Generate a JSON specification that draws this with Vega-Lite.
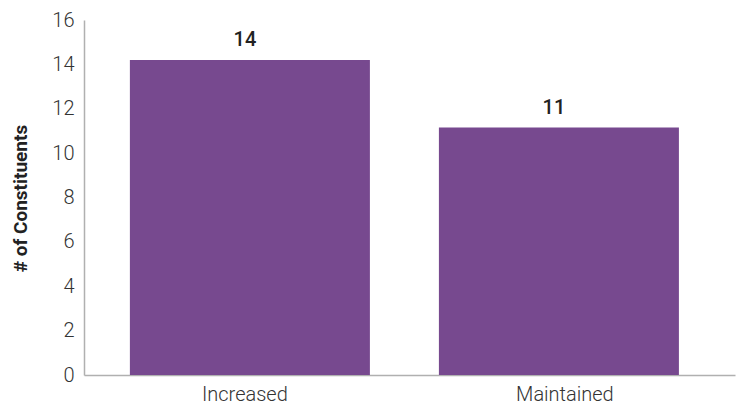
{
  "$schema": "https://vega.github.io/schema/vega-lite/v6.json",
  "width": 651,
  "height": 355,
  "autosize": {"type": "none"},
  "padding": {"left": 84, "top": 20, "right": 1, "bottom": 30},
  "config": {"view": {"stroke": null}, "font": "Roboto"},
  "data": {"values": [
    {"category": "Increased", "value": 14.2},
    {"category": "Maintained", "value": 11.15}
  ]},
  "encoding": {
    "x": {"field": "category", "type": "nominal", "sort": null,
      "scale": {"paddingInner": 0.2233, "paddingOuter": 0.165, "align": 0.45},
      "axis": {"title": null, "labelAngle": 0, "labelFontSize": 20, "labelFont": "Roboto", "labelFontWeight": 300,
        "labelColor": "#333333", "ticks": false, "labelPadding": 9, "labelBaseline": "top",
        "labelOffset": {"condition": {"test": "datum.value == 'Increased'", "value": -5}, "value": 6},
        "domainColor": "#b0b0b0", "domainWidth": 1.5}},
    "y": {"field": "value", "type": "quantitative",
      "scale": {"domain": [0, 16], "nice": false},
      "axis": {"title": "# of Constituents", "titleFontSize": 19, "titleFontWeight": "bold", "titleColor": "#222222",
        "titleX": -64, "titleY": 178, "titleBaseline": "middle", "titleAngle": -90,
        "values": [0, 2, 4, 6, 8, 10, 12, 14, 16], "grid": false, "ticks": false,
        "labelFontSize": 20, "labelFontWeight": 300, "labelColor": "#333333", "labelPadding": 10,
        "domainColor": "#b0b0b0", "domainWidth": 1.5}}
  },
  "layer": [
    {"mark": {"type": "bar", "color": "#77498F"}},
    {"mark": {"type": "text", "dy": -10, "dx": -5, "baseline": "bottom", "fontSize": 20, "fontWeight": 500, "color": "#222222", "font": "Roboto"},
      "encoding": {"text": {"field": "value", "type": "quantitative", "format": ".0f"}}}
  ]
}
